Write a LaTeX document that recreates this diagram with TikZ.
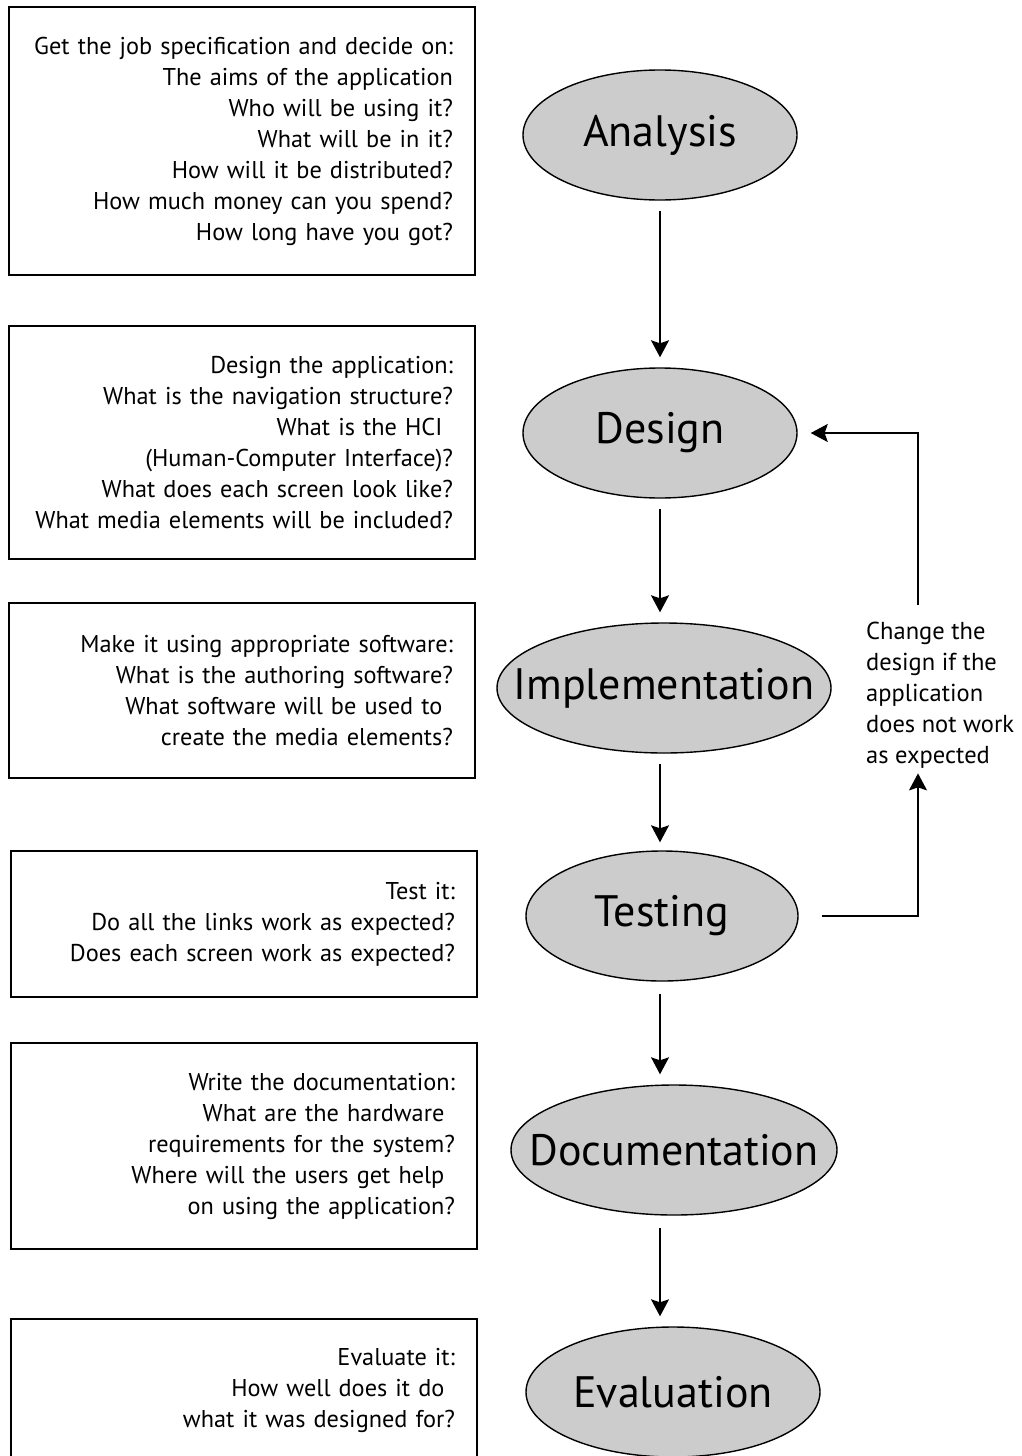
\documentclass[tikz,border=0pt]{standalone}
\usepackage{fontspec}
\setmainfont{PT Sans}
\usetikzlibrary{arrows.meta,positioning,shapes.geometric}
\definecolor{SdlcGray}{RGB}{204,204,204}
\tikzset{
  sdlc/box/.style={
    draw=black,
    line width=1.6pt,
    rectangle,
    fill=white,
    align=right,
    text width=422pt,
    inner xsep=22pt,
    minimum width=466pt,
    font=\fontsize{24.3}{31}\selectfont
  },
  sdlc/stage/.style={
    ellipse,
    draw=black,
    line width=1.4pt,
    fill=SdlcGray,
    inner xsep=-60pt,
    inner ysep=0pt,
    minimum height=130pt,
    font=\fontsize{44}{50}\selectfont
  },
  sdlc/note/.style={align=left, inner sep=3pt, font=\fontsize{24.5}{31}\selectfont},
  sdlc/arrow/.style={-{Stealth[length=17pt,width=18pt,inset=3pt]}, line width=1.6pt, draw=black}
}
\begin{document}
\begin{tikzpicture}[x=1pt,y=-1pt]
  \useasboundingbox (0,0) rectangle (1021,1456);

  % stages
  \node[sdlc/stage,minimum width=274pt] (analysis) at (660,135) {Analysis};
  \node[sdlc/stage,minimum width=274pt] (design) at (660,433) {Design};
  \node[sdlc/stage,minimum width=334pt] (implementation) at (664,688) {Implementation};
  \node[sdlc/stage,minimum width=272pt] (testing) at (662,916) {Testing};
  \node[sdlc/stage,minimum width=326pt] (documentation) at (674,1150) {Documentation};
  \node[sdlc/stage,minimum width=294pt] (evaluation) at (673,1392) {Evaluation};

  % descriptions
  \node[sdlc/box,minimum height=268pt] (analysisbox) at (242,141) {Get the job specification and decide on:\\
    The aims of the application\\ Who will be using it?\\ What will be in it?\\
    How will it be distributed?\\ How much money can you spend?\\ How long have you got?};
  \node[sdlc/box,minimum height=233pt] (designbox) at (242,442.5) {Design the application:\\
    What is the navigation structure?\\ What is the HCI\phantom{?}\\ (Human-Computer Interface)?\\
    What does each screen look like?\\ What media elements will be included?};
  \node[sdlc/box,minimum height=175pt] (implementationbox) at (242,690.5) {Make it using appropriate software:\\
    What is the authoring software?\\ What software will be used to\phantom{?}\\
    create the media elements?};
  \node[sdlc/box,minimum height=146pt] (testingbox) at (244,924) {Test it:\\
    Do all the links work as expected?\\ Does each screen work as expected?};
  \node[sdlc/box,minimum height=206pt] (documentationbox) at (244,1146) {Write the documentation:\\
    What are the hardware\phantom{?}\\ requirements for the system?\\
    Where will the users get help\phantom{?}\\ on using the application?};
  \node[sdlc/box,minimum height=142pt] (evaluationbox) at (244,1390) {Evaluate it:\\
    How well does it do\phantom{?}\\ what it was designed for?};

  % feedback loop
  \node[sdlc/note,anchor=west] (note) at (863,695) {Change the\\ design if the\\ application\\ does not work\\ as expected};
  \coordinate (loop) at (918,0);

  \draw[sdlc/arrow,shorten <=10pt,shorten >=10pt] (analysis.south) -- (analysis.south |- design.north);
  \draw[sdlc/arrow,shorten <=10pt,shorten >=10pt] (design.south) -- (design.south |- implementation.north);
  \draw[sdlc/arrow,shorten <=10pt,shorten >=8pt] (design.south |- implementation.south) -- (design.south |- testing.north);
  \draw[sdlc/arrow,shorten <=12pt,shorten >=10pt] (design.south |- testing.south) -- (design.south |- documentation.north);
  \draw[sdlc/arrow,shorten <=12pt,shorten >=10pt] (design.south |- documentation.south) -- (design.south |- evaluation.north);

  \draw[sdlc/arrow,shorten <=23pt] (testing.east) -| ([yshift=-2pt]loop |- note.south);
  \draw[sdlc/arrow,shorten >=13pt] ([yshift=14pt]loop |- note.north) |- (design.east);
\end{tikzpicture}
\end{document}
